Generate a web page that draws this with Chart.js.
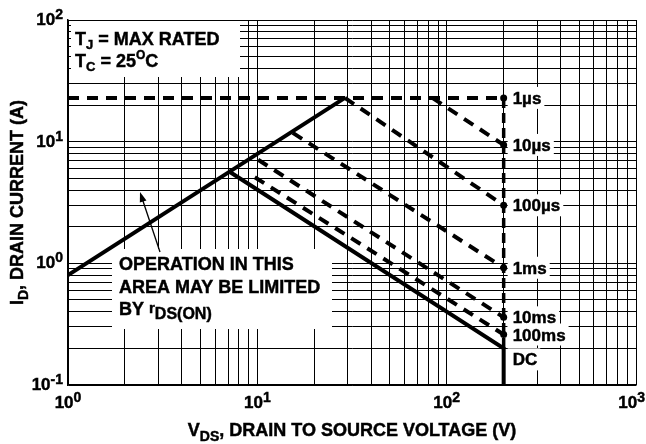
<!DOCTYPE html>
<html>
<head>
<meta charset="utf-8">
<script src="https://cdn.jsdelivr.net/npm/chart.js@4.4.1/dist/chart.umd.min.js"></script>
<style>
  html, body { margin: 0; padding: 0; background: #fff; }
  #wrap { width: 646px; height: 444px; }
</style>
</head>
<body>
<div id="wrap"><canvas id="soaChart" width="646" height="444"></canvas></div>
<script>
// decades on each axis, and the exponent written on each tick
var xDecades = [1, 10, 100, 1000];
var xExps = ['0', '1', '2', '3'];
var yDecades = [0.1, 1, 10, 100];
var yExps = ['-1', '0', '1', '2'];

// limit lines (V, A)
var rdsV = [1, 29];          var rdsI = [0.8, 22.9];
var dcV = [7.2, 200, 200];   var dcI = [5.6, 0.2, 0.1];
var bvV = [200, 200];        var bvI = [22.9, 0.2];

// pulse lines: start and end point of each
var us1V = [1, 200];         var us1I = [22.9, 22.9];
var us10V = [84, 200];       var us10I = [22.9, 9.4];
var us100V = [29, 200];      var us100I = [22.9, 3.0];
var ms1V = [15.4, 200];      var ms1I = [11.8, 0.92];
var ms10V = [10.1, 200];     var ms10I = [7.1, 0.36];
var ms100V = [9.7, 200];     var ms100I = [5.1, 0.26];

var pulseLabels = ['1\u00b5s', '10\u00b5s', '100\u00b5s', '1ms', '10ms', '100ms'];
var pulseEnds = [us1I, us10I, us100I, ms1I, ms10I, ms100I];

var FONT = '"Liberation Sans", Arial, Helvetica, sans-serif';

function pts(v, i) {
    return v.map(function(x, k) { return { x: x, y: i[k] }; });
}

// 1..9 times each decade, for the grid
function gridTicks(decades) {
    var out = [];
    for (var d = 0; d < decades.length - 1; d++) {
        for (var m = 1; m < 10; m++) out.push({ value: decades[d] * m });
    }
    out.push({ value: decades[decades.length - 1] });
    return out;
}

function solid(v, i) {
    return { data: pts(v, i), borderColor: '#000', borderWidth: 4, pointRadius: 0 };
}

function dashed(v, i, mark) {
    return {
        data: pts(v, i), borderColor: '#000', borderWidth: 4, borderDash: [11, 8],
        pointRadius: mark ? [0, 3.5] : 0, pointBackgroundColor: '#000', pointBorderWidth: 0
    };
}

// draws a run of text pieces: [text, size, dy]
function rich(ctx, parts, x, y, align) {
    var w = textWidth(ctx, parts);
    var cx = align === 'center' ? x - w / 2 : (align === 'right' ? x - w : x);
    ctx.textAlign = 'left';
    ctx.textBaseline = 'alphabetic';
    ctx.fillStyle = '#000';
    ctx.strokeStyle = '#000';
    ctx.lineWidth = 0.45;
    parts.forEach(function(p) {
        ctx.font = 'bold ' + p[1] + 'px ' + FONT;
        ctx.fillText(p[0], cx, y + (p[2] || 0));
        ctx.strokeText(p[0], cx, y + (p[2] || 0));
        cx += ctx.measureText(p[0]).width;
    });
    return w;
}

function textWidth(ctx, parts) {
    var w = 0;
    parts.forEach(function(p) {
        ctx.font = 'bold ' + p[1] + 'px ' + FONT;
        w += ctx.measureText(p[0]).width;
    });
    return w;
}

var soaText = {
    id: 'soaText',
    beforeDraw: function(chart) {
        var ctx = chart.ctx;
        ctx.save();
        ctx.fillStyle = '#fff';
        ctx.fillRect(0, 0, chart.width, chart.height);
        ctx.restore();
    },
    beforeDatasetsDraw: function(chart) {
        var ctx = chart.ctx;
        var ca = chart.chartArea;
        var xs = chart.scales.x, ys = chart.scales.y;
        ctx.save();

        // conditions box
        ctx.fillStyle = '#fff';
        ctx.fillRect(ca.left + 3, ca.top + 1, 169, 56);
        rich(ctx, [['T', 18], ['J', 13, 4], [' = MAX RATED', 18]], ca.left + 7, ca.top + 25);
        rich(ctx, [['T', 18], ['C', 13, 4], [' = 25', 18], ['O', 12, -8], ['C', 18]], ca.left + 7, ca.top + 47);

        // rDS(on) note
        ctx.fillStyle = '#fff';
        ctx.fillRect(ca.left + 44, ca.top + 229, 220, 80);
        rich(ctx, [['OPERATION IN THIS', 18]], ca.left + 51, ca.top + 250);
        rich(ctx, [['AREA MAY BE LIMITED', 18]], ca.left + 51, ca.top + 273);
        rich(ctx, [['BY ', 18], ['r', 15, -2], ['DS(ON)', 16, 4]], ca.left + 51, ca.top + 295);

        // arrow to the rDS line
        var ax0 = ca.left + 92, ay0 = ca.top + 232, ax1 = ca.left + 72, ay1 = ca.top + 172;
        var dx = ax1 - ax0, dy = ay1 - ay0, len = Math.sqrt(dx * dx + dy * dy);
        var ux = dx / len, uy = dy / len;
        ctx.strokeStyle = '#000';
        ctx.lineWidth = 1.3;
        ctx.beginPath();
        ctx.moveTo(ax0, ay0);
        ctx.lineTo(ax1 - ux * 6, ay1 - uy * 6);
        ctx.stroke();
        ctx.fillStyle = '#000';
        ctx.beginPath();
        ctx.moveTo(ax1, ay1);
        ctx.lineTo(ax1 - ux * 10 - uy * 3.5, ay1 - uy * 10 + ux * 3.5);
        ctx.lineTo(ax1 - ux * 10 + uy * 3.5, ay1 - uy * 10 - ux * 3.5);
        ctx.closePath();
        ctx.fill();

        // pulse labels at the right
        var lx = xs.getPixelForValue(bvV[0]) + 9;
        var rows = pulseLabels.map(function(t, k) {
            return { t: t, y: ys.getPixelForValue(pulseEnds[k][1]) };
        });
        rows.push({ t: 'DC', y: ys.getPixelForValue(dcI[1]) + 11 });
        rows.forEach(function(r) {
            var w = textWidth(ctx, [[r.t, 17]]);
            ctx.fillStyle = '#fff';
            ctx.fillRect(lx - 5, r.y - 11, w + 8, 22);
        });
        rows.forEach(function(r) {
            rich(ctx, [[r.t, 17]], lx, r.y + 6);
        });
        ctx.restore();
    },
    afterDraw: function(chart) {
        var ctx = chart.ctx;
        var ca = chart.chartArea;
        var xs = chart.scales.x, ys = chart.scales.y;
        ctx.save();

        // tick labels
        xDecades.forEach(function(v, k) {
            var parts = [['10', 17], [xExps[k], 14, -6]];
            var w = textWidth(ctx, parts);
            var cx = xs.getPixelForValue(v);
            var left = Math.min(cx - w / 2, chart.width - 1 - w);
            rich(ctx, parts, left, ca.bottom + 23);
        });
        yDecades.forEach(function(v, k) {
            rich(ctx, [['10', 17], [yExps[k], 14, -6]], ca.left - 5, ys.getPixelForValue(v) + 5, 'right');
        });

        // axis titles
        rich(ctx, [['V', 18], ['DS', 14, 5], [', DRAIN TO SOURCE VOLTAGE (V)', 18]],
            (ca.left + ca.right) / 2, ca.bottom + 51, 'center');
        ctx.translate(23, (ca.top + ca.bottom) / 2);
        ctx.rotate(-Math.PI / 2);
        rich(ctx, [['I', 18], ['D', 14, 5], [', DRAIN CURRENT (A)', 18]], 0, 0, 'center');
        ctx.restore();
    }
};

var bv = dashed(bvV, bvI, false);
bv.borderWidth = 3.5;
bv.borderDash = [10, 5];

new Chart(document.getElementById('soaChart').getContext('2d'), {
    type: 'line',
    data: {
        datasets: [
            solid(rdsV, rdsI),
            solid(dcV, dcI),
            bv,
            dashed(us1V, us1I, true),
            dashed(us10V, us10I, true),
            dashed(us100V, us100I, true),
            dashed(ms1V, ms1I, true),
            dashed(ms10V, ms10I, true),
            dashed(ms100V, ms100I, true)
        ]
    },
    options: {
        responsive: false,
        animation: false,
        devicePixelRatio: 1,
        layout: { padding: { left: 68, top: 20, right: 10, bottom: 59 } },
        elements: { line: { tension: 0 } },
        plugins: { legend: { display: false }, tooltip: { enabled: false } },
        scales: {
            x: {
                type: 'logarithmic', min: 1, max: 1000,
                afterBuildTicks: function(s) { s.ticks = gridTicks(xDecades); },
                ticks: { display: false },
                grid: { color: '#000', lineWidth: 1, drawTicks: false },
                border: { color: '#000', width: 1.5 }
            },
            y: {
                type: 'logarithmic', min: 0.1, max: 100,
                afterBuildTicks: function(s) { s.ticks = gridTicks(yDecades); },
                ticks: { display: false },
                grid: { color: '#000', lineWidth: 1, drawTicks: false },
                border: { color: '#000', width: 1.5 }
            }
        }
    },
    plugins: [soaText]
});
</script>
</body>
</html>
